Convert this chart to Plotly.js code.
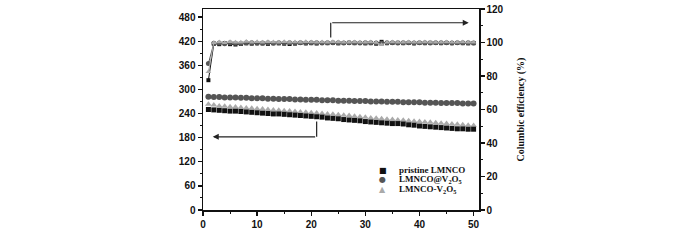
<!DOCTYPE html>
<html>
<head>
<meta charset="utf-8">
<script src="https://cdn.plot.ly/plotly-3.0.1.min.js"></script>
<style>html,body{margin:0;padding:0;background:#fff;}#chart{width:700px;height:240px;}</style>
</head>
<body>
<div id="chart"></div>
<script>
var cycles = [];
for (var i = 1; i <= 50; i++) cycles.push(i);

var seriesNames = ["pristine LMNCO", "LMNCO@V<sub>2</sub>O<sub>5</sub>", "LMNCO-V<sub>2</sub>O<sub>5</sub>"];

var capPristine = [250,249,248,247,246,246,245,244,243,242,241,240,239,239,238,237,236,235,234,233,232,231,229,228,227,225,224,223,222,220,219,218,217,216,215,215,214,212,211,209,208,207,206,205,204,203,202,202,201,201];
var capCoated = [282,281,281,280,280,280,279,279,278,278,278,277,277,276,276,276,275,275,274,274,274,273,273,273,272,272,272,271,271,271,270,270,270,269,269,269,268,268,268,268,267,267,267,266,266,266,266,265,265,265];
var capComposite = [263,261,259,258,257,256,255,254,253,252,251,250,249,248,247,246,245,244,243,242,241,240,239,238,237,236,235,233,232,231,229,228,227,226,225,224,223,222,221,220,219,218,217,216,215,214,213,212,211,210];

var cePristine = [77.5,99.2,99.0,99.6,99.0,98.8,99.1,99.5,99.3,99.6,99.4,99.2,99.6,99.5,99.3,99.1,99.4,99.7,99.5,99.6,99.4,99.7,99.6,99.8,99.5,99.7,99.8,99.6,99.7,99.5,99.6,99.3,100.4,99.6,99.7,99.8,99.6,99.7,99.5,99.7,99.6,99.8,99.7,99.6,99.7,99.6,99.7,99.6,99.5,99.6];
var ceCoated = [87.5,99.5,99.7,99.3,99.8,99.6,99.4,99.8,99.9,99.5,99.7,99.8,99.6,99.9,99.7,99.8,99.6,99.9,99.7,99.8,99.9,99.7,99.8,99.9,99.8,99.7,99.9,99.8,99.7,99.9,99.8,99.7,99.5,99.9,99.8,99.7,99.9,99.8,99.7,99.8,99.9,99.7,99.8,99.9,99.8,99.7,99.8,99.9,99.8,99.7];
var ceComposite = [82.5,99.8,100.3,99.9,100.5,100.2,100.1,100.6,100.2,100.4,100.1,100.5,100.3,100.2,100.4,100.1,100.3,100.2,100.4,100.3,100.1,100.3,100.2,100.4,100.3,100.1,100.2,100.3,100.2,100.1,100.3,100.0,98.6,100.2,100.3,100.1,100.2,100.3,100.1,100.2,100.3,100.2,100.1,100.2,100.3,100.1,100.2,100.3,100.2,100.1];

var xTicks = [0,10,20,30,40,50];
var yTicks = [0,60,120,180,240,300,360,420,480];
var y2Ticks = [0,20,40,60,80,100,120];

var colors = ["#111111", "#555555", "#aaaaaa"];
var symbols = ["square", "circle", "triangle-up"];
var sizes = [5, 6, 6];

var capData = [capPristine, capCoated, capComposite];
var ceData = [cePristine, ceCoated, ceComposite];

var traces = [];
[2,1,0].forEach(function(k){
  traces.push({
    x: cycles, y: capData[k], type: 'scatter', mode: 'markers', name: seriesNames[k],
    marker: {symbol: symbols[k], size: sizes[k], color: colors[k]},
    yaxis: 'y', showlegend: false
  });
});
// efficiency: light triangles end up on top as in the reference
[0,1,2].forEach(function(k){
  traces.push({
    x: cycles, y: ceData[k], type: 'scatter', mode: 'lines+markers', name: seriesNames[k] + ' CE',
    marker: {symbol: symbols[k], size: sizes[k] - 1, color: colors[k]},
    line: {color: colors[k], width: 1},
    yaxis: 'y2', showlegend: false
  });
});

var tickFont = {family: 'Liberation Sans, Arial, sans-serif', size: 10, color: '#111', weight: 'bold'};
var legFont = {family: 'Liberation Serif, Times New Roman, serif', size: 9, color: '#111', weight: 'bold'};

var annotations = [];
var legendY = [0.199, 0.152, 0.104];
var legendSym = ['\u25A0', '\u25CF', '\u25B2'];
for (var k = 0; k < 3; k++) {
  annotations.push({xref: 'paper', yref: 'paper', x: 0.652, y: legendY[k], text: legendSym[k], showarrow: false,
    font: {family: 'DejaVu Sans, sans-serif', size: 8, color: colors[k]}, xanchor: 'center', yanchor: 'middle'});
  annotations.push({xref: 'paper', yref: 'paper', x: 0.703, y: legendY[k], text: seriesNames[k], showarrow: false,
    font: legFont, xanchor: 'left', yanchor: 'middle'});
}
annotations.push({xref: 'x', yref: 'y', x: 1.8, y: 182, axref: 'x', ayref: 'y', ax: 21.0, ay: 182, text: '',
  showarrow: true, arrowhead: 2, arrowsize: 1, arrowwidth: 1.2, arrowcolor: '#222'});
annotations.push({xref: 'x', yref: 'y2', x: 49.1, y: 111.8, axref: 'x', ayref: 'y2', ax: 23.6, ay: 111.8, text: '',
  showarrow: true, arrowhead: 2, arrowsize: 1, arrowwidth: 1.2, arrowcolor: '#222'});

var shapes = [
  {type: 'line', xref: 'x', yref: 'y', x0: 21.0, x1: 21.0, y0: 182, y1: 220, line: {color: '#222', width: 1.2}},
  {type: 'line', xref: 'x', yref: 'y2', x0: 23.6, x1: 23.6, y0: 103, y1: 111.8, line: {color: '#222', width: 1.2}}
];

var layout = {
  width: 700, height: 240,
  margin: {l: 203, r: 221, t: 9, b: 30, pad: 0},
  paper_bgcolor: '#fff', plot_bgcolor: '#fff',
  showlegend: false,
  xaxis: {
    range: [0, 51], tickvals: xTicks, ticks: 'outside', ticklen: 4, tickwidth: 1.3, tickcolor: '#111',
    showline: true, linecolor: '#111', linewidth: 1.5, mirror: true, showgrid: false, zeroline: false,
    tickfont: tickFont,
    minor: {dtick: 5, ticks: 'outside', ticklen: 2, tickcolor: '#111', tickwidth: 1, showgrid: false}
  },
  yaxis: {
    range: [0, 500], tickvals: yTicks, ticks: 'outside', ticklen: 4, tickwidth: 1.3, tickcolor: '#111',
    showline: true, linecolor: '#111', linewidth: 1.5, showgrid: false, zeroline: false,
    tickfont: tickFont,
    minor: {tickvals: [30,90,150,210,270,330,390,450], ticks: 'outside', ticklen: 2, tickcolor: '#111', tickwidth: 1, showgrid: false}
  },
  yaxis2: {
    overlaying: 'y', side: 'right', range: [0, 120], tickvals: y2Ticks, ticks: 'outside', ticklen: 4, tickwidth: 1.3, tickcolor: '#111',
    showline: true, linecolor: '#111', linewidth: 1.5, showgrid: false, zeroline: false,
    tickfont: tickFont,
    minor: {dtick: 10, ticks: 'outside', ticklen: 2, tickcolor: '#111', tickwidth: 1, showgrid: false},
    title: {text: 'Columbic efficiency (%)', standoff: 14,
      font: {family: 'Liberation Serif, Times New Roman, serif', size: 10, color: '#111', weight: 'bold'}}
  },
  annotations: annotations,
  shapes: shapes
};

Plotly.newPlot('chart', traces, layout, {displayModeBar: false, staticPlot: true});
</script>
</body>
</html>
